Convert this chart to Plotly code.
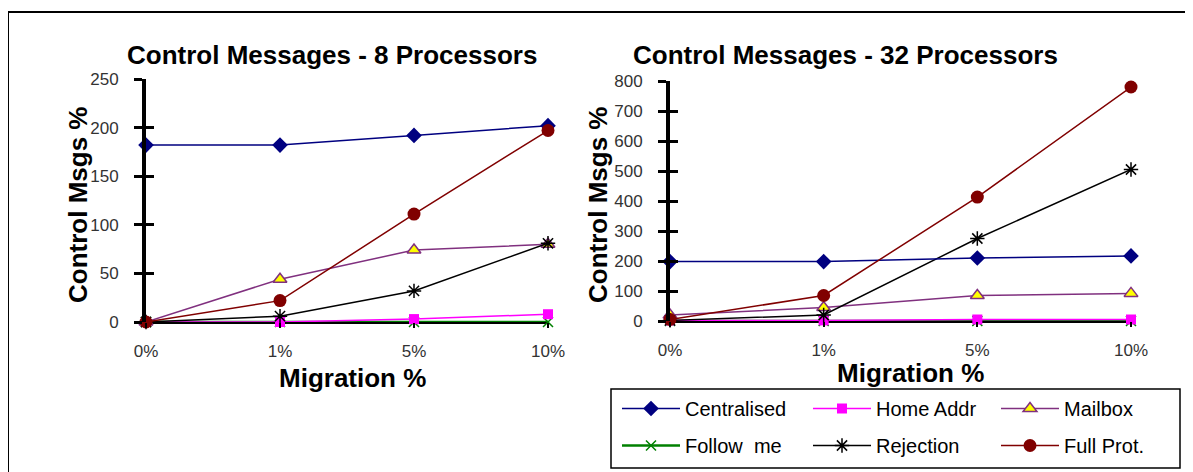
import plotly.graph_objects as go

W, H = 1193, 472

categories = ["0%", "1%", "5%", "10%"]
series_names = ["Centralised", "Home Addr", "Mailbox", "Follow  me", "Rejection", "Full Prot."]

# 8 processors
p8_centralised = [182, 182, 192, 202]
p8_home_addr = [0, 0, 3, 8]
p8_mailbox = [0, 44, 74, 80]
p8_follow_me = [0, 0, 0, 0]
p8_rejection = [0, 6, 32, 81]
p8_full_prot = [0, 22, 111, 197]

# 32 processors
p32_centralised = [198, 198, 210, 217]
p32_home_addr = [2, 2, 5, 5]
p32_mailbox = [20, 45, 85, 92]
p32_follow_me = [0, 0, 0, 0]
p32_rejection = [2, 20, 275, 505]
p32_full_prot = [5, 85, 413, 780]

y_ticks_8 = [0, 50, 100, 150, 200, 250]
y_ticks_32 = [0, 100, 200, 300, 400, 500, 600, 700, 800]

styles = [
    dict(line=dict(color="#000080", width=1.5), marker=dict(symbol="diamond", size=12, color="#000080")),
    dict(line=dict(color="#FF00FF", width=1.5), marker=dict(symbol="square", size=10, color="#FF00FF")),
    dict(line=dict(color="#80307F", width=1.5), marker=dict(symbol="triangle-up", size=12, color="#FFFF00",
                                                          line=dict(color="#80307F", width=1.5))),
    dict(line=dict(color="#008000", width=2.5), marker=dict(symbol="x-thin-open", size=10, color="#008000",
                                                          line=dict(color="#008000", width=1.5))),
    dict(line=dict(color="#000000", width=1.5), marker=dict(symbol="asterisk-open", size=12, color="#000000",
                                                          line=dict(color="#000000", width=1.5))),
    dict(line=dict(color="#800000", width=1.5), marker=dict(symbol="circle", size=13, color="#800000")),
]
# legend column of each series (3 columns x 2 rows)
legend_of = ["legend", "legend2", "legend3", "legend", "legend2", "legend3"]

data8 = [p8_centralised, p8_home_addr, p8_mailbox, p8_follow_me, p8_rejection, p8_full_prot]
data32 = [p32_centralised, p32_home_addr, p32_mailbox, p32_follow_me, p32_rejection, p32_full_prot]

fig = go.Figure()
draw_order = [3, 1, 2, 4, 0, 5]
for i in draw_order:
    fig.add_trace(go.Scatter(x=categories, y=data8[i], mode="lines+markers", name=series_names[i],
                             xaxis="x", yaxis="y", legend=legend_of[i], legendrank=i + 1,
                             legendgroup=series_names[i], cliponaxis=False, **styles[i]))
for i in draw_order:
    fig.add_trace(go.Scatter(x=categories, y=data32[i], mode="lines+markers", name=series_names[i],
                             xaxis="x2", yaxis="y2", showlegend=False, legendgroup=series_names[i],
                             cliponaxis=False, **styles[i]))

# the page places the figure 8px from the top-left corner of the window
OFF = 8


def px_x(v):
    return (v - OFF) / W


def px_y(v):
    return 1 - (v - OFF) / H


tick_font = dict(family="Liberation Sans, Arial", size=17, color="#333333")
title_font = dict(family="Liberation Sans, Arial", size=26, color="#000000")
legend_font = dict(family="Liberation Sans, Arial", size=20, color="#000000")

xcommon = dict(type="category", range=[0, 3], showgrid=False, zeroline=False, showline=False,
               ticks="outside", ticklen=5, tickwidth=2, tickcolor="#000", tickfont=tick_font,
               ticklabelstandoff=9)
ycommon = dict(showgrid=False, zeroline=True, zerolinecolor="#000", zerolinewidth=3, showline=True,
               linecolor="#000", linewidth=4, ticks="outside", ticklen=8, tickwidth=3, tickcolor="#000",
               tickfont=tick_font, ticklabelstandoff=12)

legend_common = dict(orientation="v", xanchor="left", yanchor="top", bgcolor="rgba(0,0,0,0)",
                     borderwidth=0, font=legend_font, itemwidth=58, traceorder="grouped",
                     tracegroupgap=8, itemclick=False, itemdoubleclick=False)

fig.update_layout(
    width=W, height=H, autosize=False, margin=dict(l=0, r=0, t=0, b=0, autoexpand=False),
    paper_bgcolor="white", plot_bgcolor="white",
    xaxis=dict(domain=[px_x(146), px_x(548)], anchor="y", **xcommon),
    yaxis=dict(domain=[px_y(322), px_y(79)], anchor="x", range=[0, 250], tickvals=y_ticks_8, **ycommon),
    xaxis2=dict(domain=[px_x(670), px_x(1131)], anchor="y2", **xcommon),
    yaxis2=dict(domain=[px_y(321), px_y(81)], anchor="x2", range=[0, 800], tickvals=y_ticks_32, **ycommon),
    yaxis3=dict(overlaying="y", matches="y", anchor="x", showline=False, showgrid=False, zeroline=False,
                ticks="inside", ticklen=8, tickwidth=3, tickcolor="#000", showticklabels=False,
                tickvals=y_ticks_8),
    yaxis4=dict(overlaying="y2", matches="y2", anchor="x2", showline=False, showgrid=False, zeroline=False,
                ticks="inside", ticklen=8, tickwidth=3, tickcolor="#000", showticklabels=False,
                tickvals=y_ticks_32),
    legend=dict(x=px_x(617), y=px_y(389), **legend_common),
    legend2=dict(x=px_x(808), y=px_y(389), **legend_common),
    legend3=dict(x=px_x(996), y=px_y(389), **legend_common),
    showlegend=True,
)

# invisible traces to activate overlay axes
fig.add_trace(go.Scatter(x=[categories[0]], y=[0], xaxis="x", yaxis="y3", mode="markers",
                         marker=dict(opacity=0), showlegend=False, hoverinfo="skip"))
fig.add_trace(go.Scatter(x=[categories[0]], y=[0], xaxis="x2", yaxis="y4", mode="markers",
                         marker=dict(opacity=0), showlegend=False, hoverinfo="skip"))

annotations = [
    dict(text="<b>Control Messages - 8 Processors</b>", x=px_x(332), y=px_y(55)),
    dict(text="<b>Control Messages - 32 Processors</b>", x=px_x(845), y=px_y(55)),
    dict(text="<b>Migration %</b>", x=px_x(352), y=px_y(378)),
    dict(text="<b>Migration %</b>", x=px_x(910), y=px_y(373)),
    dict(text="<b>Control Msgs %</b>", x=px_x(78), y=px_y(205), textangle=-90),
    dict(text="<b>Control Msgs %</b>", x=px_x(598), y=px_y(205), textangle=-90),
]
for a in annotations:
    fig.add_annotation(xref="paper", yref="paper", showarrow=False, xanchor="center", yanchor="middle",
                       font=title_font, **a)

# outer frame
fig.add_shape(type="rect", xref="paper", yref="paper", x0=px_x(8), y0=-0.05, x1=1.05, y1=px_y(12),
              line=dict(color="#000", width=2), layer="below")
# legend box
fig.add_shape(type="rect", xref="paper", yref="paper", x0=px_x(611), y0=px_y(468), x1=px_x(1180),
              y1=px_y(389), line=dict(color="#000", width=1.5), fillcolor="rgba(0,0,0,0)", layer="below")

fig.write_html("out.html")
